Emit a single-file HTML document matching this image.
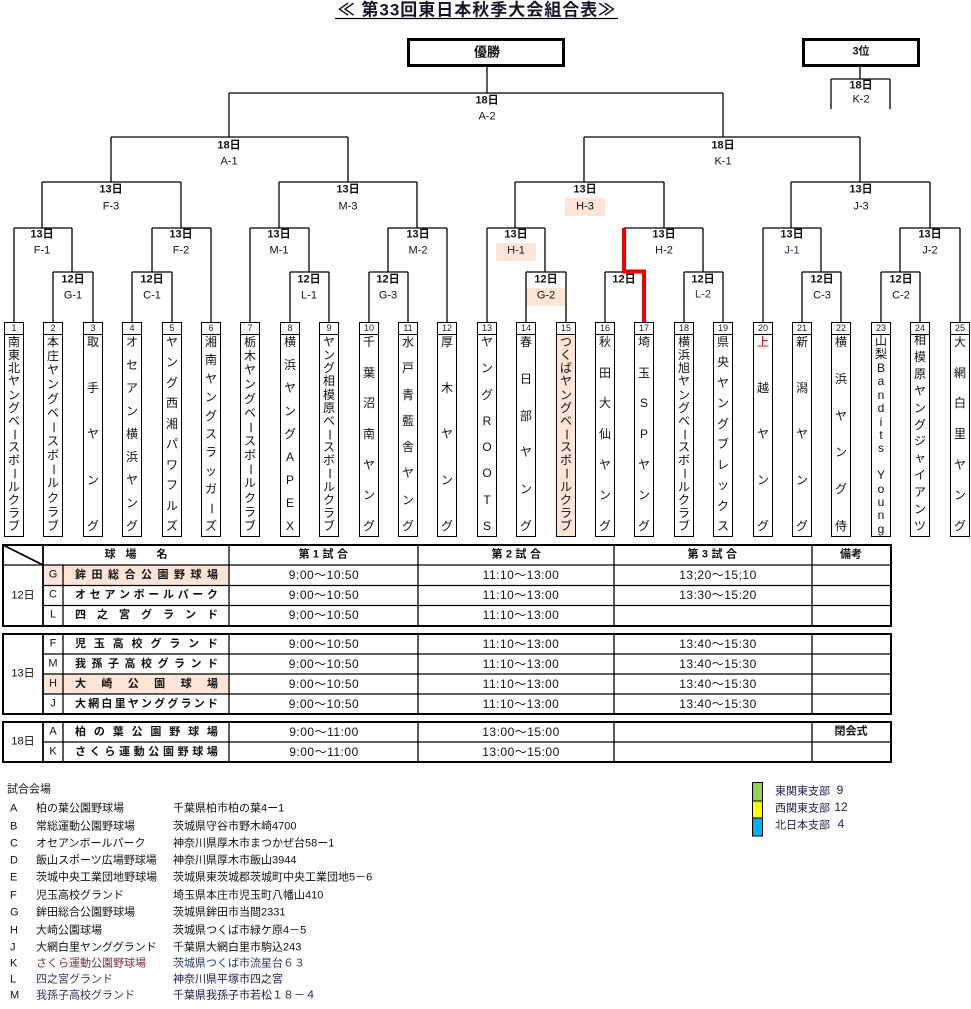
<!DOCTYPE html>
<html><head><meta charset="utf-8">
<style>
*{margin:0;padding:0;box-sizing:border-box}
html,body{width:971px;height:1009px;background:#fff;overflow:hidden}
body{font-family:"Liberation Sans","Noto Sans CJK JP",sans-serif;color:#111;position:relative}
.c{position:absolute;transform:translate(-50%,-50%);white-space:nowrap;line-height:1;font-size:11px}
.b{font-weight:bold}
.tb{position:absolute;top:322px;width:20px;height:215px;border:1.3px solid #000;background:#fff}
.tb .n{height:12px;border-bottom:1.2px solid #000;font-size:9px;line-height:11px;text-align:center;color:#223}
.tb .nm{position:absolute;top:13px;left:0;right:0;bottom:3px;display:flex;flex-direction:column;justify-content:space-between;align-items:center;font-size:12px;line-height:13px}
.nm i{font-style:normal;display:block;height:13px;text-align:center}
.nm i.r{transform:rotate(90deg)}
.tm{position:absolute;transform:translate(-50%,-50%);white-space:nowrap;font-size:12px;letter-spacing:.5px;line-height:1}
.vn{position:absolute;left:75px;width:143px;height:14px;display:flex;justify-content:space-between;font-size:11px;line-height:14px}
.vn i{font-style:normal}
.bl{position:absolute;font-size:11px;line-height:1;transform:translateY(-50%);white-space:nowrap}
svg{position:absolute;left:0;top:0}
</style></head><body>

<svg width="971" height="1009" style="z-index:0">
  <rect x="565" y="198" width="40" height="18" fill="#fce4d6"/>
  <rect x="496" y="243" width="40" height="18" fill="#fce4d6"/>
  <rect x="526" y="288" width="39" height="18" fill="#fce4d6"/>
  <rect x="43" y="565" width="186" height="20" fill="#fce4d6"/>
  <rect x="43" y="674" width="186" height="20" fill="#fce4d6"/>
</svg>

<!-- team boxes -->
<div class="tb" style="left:4px"><div class="n">1</div><div class="nm"><i>南</i><i>東</i><i>北</i><i>ヤ</i><i>ン</i><i>グ</i><i>ベ</i><i class="r">ー</i><i>ス</i><i>ボ</i><i class="r">ー</i><i>ル</i><i>ク</i><i>ラ</i><i>ブ</i></div></div>
<div class="tb" style="left:43px"><div class="n">2</div><div class="nm"><i>本</i><i>庄</i><i>ヤ</i><i>ン</i><i>グ</i><i>ベ</i><i class="r">ー</i><i>ス</i><i>ボ</i><i class="r">ー</i><i>ル</i><i>ク</i><i>ラ</i><i>ブ</i></div></div>
<div class="tb" style="left:83px"><div class="n">3</div><div class="nm"><i>取</i><i>手</i><i>ヤ</i><i>ン</i><i>グ</i></div></div>
<div class="tb" style="left:122px"><div class="n">4</div><div class="nm"><i>オ</i><i>セ</i><i>ア</i><i>ン</i><i>横</i><i>浜</i><i>ヤ</i><i>ン</i><i>グ</i></div></div>
<div class="tb" style="left:162px"><div class="n">5</div><div class="nm"><i>ヤ</i><i>ン</i><i>グ</i><i>西</i><i>湘</i><i>パ</i><i>ワ</i><i>フ</i><i>ル</i><i>ズ</i></div></div>
<div class="tb" style="left:201px"><div class="n">6</div><div class="nm"><i>湘</i><i>南</i><i>ヤ</i><i>ン</i><i>グ</i><i>ス</i><i>ラ</i><i>ッ</i><i>ガ</i><i class="r">ー</i><i>ズ</i></div></div>
<div class="tb" style="left:240px"><div class="n">7</div><div class="nm"><i>栃</i><i>木</i><i>ヤ</i><i>ン</i><i>グ</i><i>ベ</i><i class="r">ー</i><i>ス</i><i>ボ</i><i class="r">ー</i><i>ル</i><i>ク</i><i>ラ</i><i>ブ</i></div></div>
<div class="tb" style="left:280px"><div class="n">8</div><div class="nm"><i>横</i><i>浜</i><i>ヤ</i><i>ン</i><i>グ</i><i>A</i><i>P</i><i>E</i><i>X</i></div></div>
<div class="tb" style="left:319px"><div class="n">9</div><div class="nm"><i>ヤ</i><i>ン</i><i>グ</i><i>相</i><i>模</i><i>原</i><i>ベ</i><i class="r">ー</i><i>ス</i><i>ボ</i><i class="r">ー</i><i>ル</i><i>ク</i><i>ラ</i><i>ブ</i></div></div>
<div class="tb" style="left:359px"><div class="n">10</div><div class="nm"><i>千</i><i>葉</i><i>沼</i><i>南</i><i>ヤ</i><i>ン</i><i>グ</i></div></div>
<div class="tb" style="left:398px"><div class="n">11</div><div class="nm"><i>水</i><i>戸</i><i>青</i><i>藍</i><i>舎</i><i>ヤ</i><i>ン</i><i>グ</i></div></div>
<div class="tb" style="left:437px"><div class="n">12</div><div class="nm"><i>厚</i><i>木</i><i>ヤ</i><i>ン</i><i>グ</i></div></div>
<div class="tb" style="left:477px"><div class="n">13</div><div class="nm"><i>ヤ</i><i>ン</i><i>グ</i><i>R</i><i>O</i><i>O</i><i>T</i><i>S</i></div></div>
<div class="tb" style="left:516px"><div class="n">14</div><div class="nm"><i>春</i><i>日</i><i>部</i><i>ヤ</i><i>ン</i><i>グ</i></div></div>
<div class="tb" style="left:556px;background:linear-gradient(#fff 0 13px,#fce4d6 13px)"><div class="n">15</div><div class="nm"><i>つ</i><i>く</i><i>ば</i><i>ヤ</i><i>ン</i><i>グ</i><i>ベ</i><i class="r">ー</i><i>ス</i><i>ボ</i><i class="r">ー</i><i>ル</i><i>ク</i><i>ラ</i><i>ブ</i></div></div>
<div class="tb" style="left:595px"><div class="n">16</div><div class="nm"><i>秋</i><i>田</i><i>大</i><i>仙</i><i>ヤ</i><i>ン</i><i>グ</i></div></div>
<div class="tb" style="left:634px"><div class="n">17</div><div class="nm"><i>埼</i><i>玉</i><i>S</i><i>P</i><i>ヤ</i><i>ン</i><i>グ</i></div></div>
<div class="tb" style="left:674px"><div class="n">18</div><div class="nm"><i>横</i><i>浜</i><i>旭</i><i>ヤ</i><i>ン</i><i>グ</i><i>ベ</i><i class="r">ー</i><i>ス</i><i>ボ</i><i class="r">ー</i><i>ル</i><i>ク</i><i>ラ</i><i>ブ</i></div></div>
<div class="tb" style="left:713px"><div class="n">19</div><div class="nm"><i>県</i><i>央</i><i>ヤ</i><i>ン</i><i>グ</i><i>ブ</i><i>レ</i><i>ッ</i><i>ク</i><i>ス</i></div></div>
<div class="tb" style="left:753px"><div class="n">20</div><div class="nm"><i style="color:#c00000">上</i><i>越</i><i>ヤ</i><i>ン</i><i>グ</i></div></div>
<div class="tb" style="left:792px"><div class="n">21</div><div class="nm"><i>新</i><i>潟</i><i>ヤ</i><i>ン</i><i>グ</i></div></div>
<div class="tb" style="left:831px"><div class="n">22</div><div class="nm"><i>横</i><i>浜</i><i>ヤ</i><i>ン</i><i>グ</i><i>侍</i></div></div>
<div class="tb" style="left:871px"><div class="n">23</div><div class="nm" style="top:12px;bottom:0"><i>山</i><i>梨</i><i>B</i><i>a</i><i>n</i><i>d</i><i>i</i><i>t</i><i>s</i><i>&nbsp;</i><i>Y</i><i>o</i><i>u</i><i>n</i><i>g</i></div></div>
<div class="tb" style="left:910px"><div class="n">24</div><div class="nm" style="top:11px;bottom:3px"><i>相</i><i>模</i><i>原</i><i>ヤ</i><i>ン</i><i>グ</i><i>ジ</i><i>ャ</i><i>イ</i><i>ア</i><i>ン</i><i>ツ</i></div></div>
<div class="tb" style="left:950px"><div class="n">25</div><div class="nm"><i>大</i><i>網</i><i>白</i><i>里</i><i>ヤ</i><i>ン</i><i>グ</i></div></div>

<svg width="971" height="1009" style="z-index:2">
 <g stroke="#000" stroke-width="1.3" fill="none">
  <path d="M335 18.5H618"/>
  <path d="M487 67V93M229 93H723
   M229 93V137M111 137H348
   M723 93V137M584 137H860
   M111 137V182M42 182H181
   M348 137V182M279 182H417
   M584 137V182M515 182H664
   M860 137V182M791 182H930
   M42 182V228M14 228H72
   M181 182V228M152 228H211
   M279 182V228M250 228H309
   M417 182V228M388 228H447
   M515 182V228M487 228H545
   M664 182V228M624 228H703
   M791 182V228M763 228H821
   M930 182V228M900 228H960
   M72 228V272M53 272H93
   M152 228V272M132 272H172
   M309 228V272M290 272H329
   M388 228V272M369 272H408
   M545 228V272M526 272H566
   M605 272H644
   M703 228V272M684 272H723
   M821 228V272M802 272H841
   M900 228V272M881 272H920
   M14 228V322M53 272V322M93 272V322M132 272V322M172 272V322M211 228V322
   M250 228V322M290 272V322M329 272V322M369 272V322M408 272V322M447 228V322
   M487 228V322M526 272V322M566 272V322M605 272V322M684 272V322M723 272V322
   M763 228V322M802 272V322M841 272V322M881 272V322M920 272V322M960 228V322
   M860 66V79M831 79H890M831 79V109M890 79V109"/>
  <rect x="408.5" y="39.5" width="155" height="26" stroke-width="3"/>
  <rect x="803.5" y="39.5" width="115" height="26" stroke-width="3"/>
  <!-- tables -->
  <rect x="3" y="545" width="888" height="81" stroke-width="2"/>
  <path d="M3 565H891M43 585.5H891M43 605.5H891M63 565V626M229 545V626M418 545V626M614 545V626M812 545V626"/>
  <path d="M43 545V626M3 545L43 565" stroke-width="1.8"/>
  <rect x="3" y="634" width="888" height="80" stroke-width="2"/>
  <path d="M43 654H891M43 674H891M43 694H891M63 634V714M229 634V714M418 634V714M614 634V714M812 634V714"/>
  <path d="M43 634V714" stroke-width="1.8"/>
  <rect x="3" y="722" width="888" height="40" stroke-width="2"/>
  <path d="M43 742H891M63 722V762M229 722V762M418 722V762M614 722V762M812 722V762"/>
  <path d="M43 722V762" stroke-width="1.8"/>
 </g>
 <path d="M624 228V271.5H644V322" stroke="#ee0000" stroke-width="4" fill="none" stroke-linejoin="miter"/>
 <g stroke="#000" stroke-width="1">
  <rect x="752.5" y="782.5" width="10" height="18.5" fill="#92d050"/>
  <rect x="752.5" y="801" width="10" height="17" fill="#ffff00"/>
  <rect x="752.5" y="818" width="10" height="18" fill="#00b0f0"/>
 </g>
</svg>

<div style="position:relative;z-index:3">
<!-- title -->
<div class="c b" style="left:477px;top:10px;font-size:17px;letter-spacing:1px;color:#15152a">≪ 第33回東日本秋季大会組合表≫</div>
<div class="c b" style="left:487px;top:52px;font-size:13px">優勝</div>
<div class="c b" style="left:861px;top:52px;font-size:11px">3位</div>

<!-- bracket labels -->
<div class="c b" style="left:487px;top:101px">18日</div><div class="c" style="left:487px;top:117px">A-2</div>
<div class="c b" style="left:861px;top:86px">18日</div><div class="c" style="left:861px;top:100px">K-2</div>
<div class="c b" style="left:229px;top:146px">18日</div><div class="c" style="left:229px;top:162px">A-1</div>
<div class="c b" style="left:723px;top:146px">18日</div><div class="c" style="left:723px;top:162px">K-1</div>

<div class="c b" style="left:111px;top:190px">13日</div><div class="c" style="left:111px;top:207px">F-3</div>
<div class="c b" style="left:348px;top:190px">13日</div><div class="c" style="left:348px;top:207px">M-3</div>
<div class="c b" style="left:585px;top:190px">13日</div><div class="c" style="left:585px;top:207px">H-3</div>
<div class="c b" style="left:861px;top:190px">13日</div><div class="c" style="left:861px;top:207px">J-3</div>

<div class="c b" style="left:42px;top:235px">13日</div><div class="c" style="left:42px;top:251px">F-1</div>
<div class="c b" style="left:181px;top:235px">13日</div><div class="c" style="left:181px;top:251px">F-2</div>
<div class="c b" style="left:279px;top:235px">13日</div><div class="c" style="left:279px;top:251px">M-1</div>
<div class="c b" style="left:418px;top:235px">13日</div><div class="c" style="left:418px;top:251px">M-2</div>
<div class="c b" style="left:516px;top:235px">13日</div><div class="c" style="left:516px;top:251px">H-1</div>
<div class="c b" style="left:664px;top:235px">13日</div><div class="c" style="left:664px;top:251px">H-2</div>
<div class="c b" style="left:792px;top:235px">13日</div><div class="c" style="left:792px;top:251px;color:#223366">J-1</div>
<div class="c b" style="left:930px;top:235px">13日</div><div class="c" style="left:930px;top:251px">J-2</div>

<div class="c b" style="left:73px;top:280px">12日</div><div class="c" style="left:73px;top:296px">G-1</div>
<div class="c b" style="left:152px;top:280px">12日</div><div class="c" style="left:152px;top:296px">C-1</div>
<div class="c b" style="left:309px;top:280px">12日</div><div class="c" style="left:309px;top:296px">L-1</div>
<div class="c b" style="left:388px;top:280px">12日</div><div class="c" style="left:388px;top:296px">G-3</div>
<div class="c b" style="left:546px;top:280px">12日</div><div class="c" style="left:546px;top:296px">G-2</div>
<div class="c b" style="left:624px;top:280px">12日</div>
<div class="c b" style="left:703px;top:280px">12日</div><div class="c" style="left:703px;top:295px;color:#223366">L-2</div>
<div class="c b" style="left:822px;top:280px">12日</div><div class="c" style="left:822px;top:296px">C-3</div>
<div class="c b" style="left:901px;top:280px">12日</div><div class="c" style="left:901px;top:296px">C-2</div>

<!-- table header -->
<div class="c b" style="left:110px;top:555px">球</div>
<div class="c b" style="left:131px;top:555px">場</div>
<div class="c b" style="left:162px;top:555px">名</div>
<div class="c b" style="left:325px;top:555px;letter-spacing:3.5px">第1試合</div>
<div class="c b" style="left:518px;top:555px;letter-spacing:3.5px">第2試合</div>
<div class="c b" style="left:714px;top:555px;letter-spacing:3.5px">第3試合</div>
<div class="c b" style="left:851px;top:555px">備考</div>

<!-- dates -->
<div class="c" style="left:23px;top:596px">12日</div>
<div class="c" style="left:23px;top:674px">13日</div>
<div class="c" style="left:23px;top:742px">18日</div>

<!-- letters -->
<div class="c" style="left:53px;top:575px">G</div>
<div class="c" style="left:53px;top:595px">C</div>
<div class="c" style="left:53px;top:615px">L</div>
<div class="c" style="left:53px;top:644px">F</div>
<div class="c" style="left:53px;top:664px">M</div>
<div class="c" style="left:53px;top:684px">H</div>
<div class="c" style="left:53px;top:704px">J</div>
<div class="c" style="left:53px;top:732px">A</div>
<div class="c" style="left:53px;top:752px">K</div>

<!-- venues -->
<div class="vn b" style="top:568px"><i>鉾</i><i>田</i><i>総</i><i>合</i><i>公</i><i>園</i><i>野</i><i>球</i><i>場</i></div>
<div class="vn b" style="top:588px"><i>オ</i><i>セ</i><i>ア</i><i>ン</i><i>ボ</i><i>ー</i><i>ル</i><i>パ</i><i>ー</i><i>ク</i></div>
<div class="vn b" style="top:608px"><i>四</i><i>之</i><i>宮</i><i>グ</i><i>ラ</i><i>ン</i><i>ド</i></div>
<div class="vn b" style="top:637px"><i>児</i><i>玉</i><i>高</i><i>校</i><i>グ</i><i>ラ</i><i>ン</i><i>ド</i></div>
<div class="vn b" style="top:657px"><i>我</i><i>孫</i><i>子</i><i>高</i><i>校</i><i>グ</i><i>ラ</i><i>ン</i><i>ド</i></div>
<div class="vn b" style="top:677px"><i>大</i><i>崎</i><i>公</i><i>園</i><i>球</i><i>場</i></div>
<div class="vn b" style="top:697px"><i>大</i><i>網</i><i>白</i><i>里</i><i>ヤ</i><i>ン</i><i>グ</i><i>グ</i><i>ラ</i><i>ン</i><i>ド</i></div>
<div class="vn b" style="top:725px"><i>柏</i><i>の</i><i>葉</i><i>公</i><i>園</i><i>野</i><i>球</i><i>場</i></div>
<div class="vn b" style="top:745px"><i>さ</i><i>く</i><i>ら</i><i>運</i><i>動</i><i>公</i><i>園</i><i>野</i><i>球</i><i>場</i></div>

<!-- times -->
<div class="tm" style="left:324px;top:575px">9:00～10:50</div>
<div class="tm" style="left:521px;top:575px">11:10～13:00</div>
<div class="tm" style="left:718px;top:575px">13;20～15;10</div>
<div class="tm" style="left:324px;top:595px">9:00～10:50</div>
<div class="tm" style="left:521px;top:595px">11:10～13:00</div>
<div class="tm" style="left:718px;top:595px">13:30～15:20</div>
<div class="tm" style="left:324px;top:615px">9:00～10:50</div>
<div class="tm" style="left:521px;top:615px">11:10～13:00</div>

<div class="tm" style="left:324px;top:644px">9:00～10:50</div>
<div class="tm" style="left:521px;top:644px">11:10～13:00</div>
<div class="tm" style="left:718px;top:644px">13:40～15:30</div>
<div class="tm" style="left:324px;top:664px">9:00～10:50</div>
<div class="tm" style="left:521px;top:664px">11:10～13:00</div>
<div class="tm" style="left:718px;top:664px">13:40～15:30</div>
<div class="tm" style="left:324px;top:684px">9:00～10:50</div>
<div class="tm" style="left:521px;top:684px">11:10～13:00</div>
<div class="tm" style="left:718px;top:684px">13:40～15:30</div>
<div class="tm" style="left:324px;top:704px">9:00～10:50</div>
<div class="tm" style="left:521px;top:704px">11:10～13:00</div>
<div class="tm" style="left:718px;top:704px">13:40～15:30</div>

<div class="tm" style="left:324px;top:732px">9:00～11:00</div>
<div class="tm" style="left:521px;top:732px">13:00～15:00</div>
<div class="c b" style="left:851px;top:732px">閉会式</div>
<div class="tm" style="left:324px;top:752px">9:00～11:00</div>
<div class="tm" style="left:521px;top:752px">13:00～15:00</div>

<!-- legend -->
<div class="bl" style="left:775px;top:792px;color:#22224a">東関東支部</div><div class="c" style="left:840px;top:790px;font-size:12px;color:#22224a">9</div>
<div class="bl" style="left:775px;top:809px;color:#22224a">西関東支部</div><div class="c" style="left:841px;top:807px;font-size:12px;color:#22224a">12</div>
<div class="bl" style="left:775px;top:826px;color:#22224a">北日本支部</div><div class="c" style="left:841px;top:824px;font-size:12px;color:#33225a">4</div>

<!-- venue list -->
<div class="bl" style="left:7px;top:790px">試合会場</div>
<div class="bl" style="left:10px;top:809px">A</div><div class="bl" style="left:36px;top:809px">柏の葉公園野球場</div><div class="bl" style="left:173px;top:809px">千葉県柏市柏の葉4ー1</div>
<div class="bl" style="left:10px;top:827px">B</div><div class="bl" style="left:36px;top:827px">常総運動公園野球場</div><div class="bl" style="left:173px;top:827px">茨城県守谷市野木崎4700</div>
<div class="bl" style="left:10px;top:844px">C</div><div class="bl" style="left:36px;top:844px">オセアンボールパーク</div><div class="bl" style="left:173px;top:844px">神奈川県厚木市まつかぜ台58ー1</div>
<div class="bl" style="left:10px;top:861px">D</div><div class="bl" style="left:36px;top:861px">飯山スポーツ広場野球場</div><div class="bl" style="left:173px;top:861px">神奈川県厚木市飯山3944</div>
<div class="bl" style="left:10px;top:878px">E</div><div class="bl" style="left:36px;top:878px">茨城中央工業団地野球場</div><div class="bl" style="left:173px;top:878px">茨城県東茨城郡茨城町中央工業団地5－6</div>
<div class="bl" style="left:10px;top:896px">F</div><div class="bl" style="left:36px;top:896px">児玉高校グランド</div><div class="bl" style="left:173px;top:896px">埼玉県本庄市児玉町八幡山410</div>
<div class="bl" style="left:10px;top:913px">G</div><div class="bl" style="left:36px;top:913px">鉾田総合公園野球場</div><div class="bl" style="left:173px;top:913px">茨城県鉾田市当間2331</div>
<div class="bl" style="left:10px;top:931px">H</div><div class="bl" style="left:36px;top:931px">大崎公園球場</div><div class="bl" style="left:173px;top:931px">茨城県つくば市緑ケ原4－5</div>
<div class="bl" style="left:10px;top:948px">J</div><div class="bl" style="left:36px;top:948px">大網白里ヤンググランド</div><div class="bl" style="left:173px;top:948px">千葉県大網白里市駒込243</div>
<div class="bl" style="left:10px;top:964px">K</div><div class="bl" style="left:36px;top:964px;color:#7a2a3a">さくら運動公園野球場</div><div class="bl" style="left:173px;top:964px;color:#2a3a6a">茨城県つくば市流星台６３</div>
<div class="bl" style="left:10px;top:980px">L</div><div class="bl" style="left:36px;top:980px;color:#333366">四之宮グランド</div><div class="bl" style="left:173px;top:980px;color:#1a1a4a">神奈川県平塚市四之宮</div>
<div class="bl" style="left:10px;top:996px">M</div><div class="bl" style="left:36px;top:996px;color:#333366">我孫子高校グランド</div><div class="bl" style="left:173px;top:996px;color:#1a1a4a">千葉県我孫子市若松１８－４</div>
</div>
</body></html>
